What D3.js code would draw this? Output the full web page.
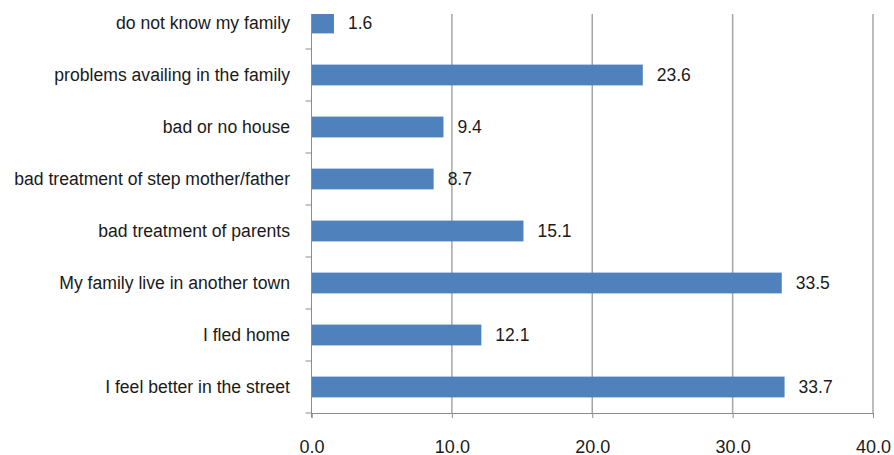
<!DOCTYPE html>
<html>
<head>
<meta charset="utf-8">
<script src="https://cdn.jsdelivr.net/npm/d3@7"></script>
<style>
  body { margin: 0; background: #fff; }
  text { font-family: "Liberation Sans", Arial, sans-serif; fill: #1a1a1a; }
</style>
</head>
<body>
<script>
// data (top to bottom)
var categories = ["do not know my family", "problems availing in the family", "bad or no house",
  "bad treatment of step mother/father", "bad treatment of parents", "My family live in another town",
  "I fled home", "I feel better in the street"];
var values = [1.6, 23.6, 9.4, 8.7, 15.1, 33.5, 12.1, 33.7];
var xTicks = [0, 10, 20, 30, 40];

var width = 894, height = 455;
var svg = d3.select("body").append("svg")
  .attr("width", width).attr("height", height);

// plot area (top is cut off in the original)
var plot = {left: 311.5, right: 873, top: -3, bottom: 413};

var x = d3.scaleLinear().domain([0, 40]).range([plot.left, plot.right]);
var band = d3.scaleBand().domain(categories).range([plot.top, plot.bottom]);
var barH = band.bandwidth() * 0.4;

// vertical gridlines
svg.selectAll(".grid").data(xTicks.slice(1)).enter().append("line")
  .attr("x1", d => x(d)).attr("x2", d => x(d))
  .attr("y1", 14).attr("y2", plot.bottom)
  .attr("stroke", "#a6a6a6").attr("stroke-width", 1.5);

// bars (first one is clipped by the top of the picture)
function barTop(i) { return Math.max(14, band(categories[i]) + (band.bandwidth() - barH) / 2); }
svg.selectAll(".bar").data(values).enter().append("rect")
  .attr("x", x(0))
  .attr("y", (d, i) => barTop(i))
  .attr("width", d => x(d) - x(0))
  .attr("height", (d, i) => band(categories[i]) + (band.bandwidth() + barH) / 2 - barTop(i))
  .attr("fill", "#4f81bd");

// value labels
svg.selectAll(".val").data(values).enter().append("text")
  .attr("x", d => x(d) + 14)
  .attr("y", (d, i) => band(categories[i]) + band.bandwidth() / 2)
  .attr("dy", "0.36em")
  .attr("font-size", 17.5)
  .text(d => d.toFixed(1));

// y axis line + ticks between categories
svg.append("line").attr("x1", plot.left).attr("x2", plot.left).attr("y1", 14).attr("y2", plot.bottom + 4)
  .attr("stroke", "#8c8c8c").attr("stroke-width", 1);
var bounds = categories.map(c => band(c)).slice(1).concat([plot.bottom]);
svg.selectAll(".ytick").data(bounds).enter().append("line")
  .attr("x1", plot.left - 6).attr("x2", plot.left)
  .attr("y1", d => d).attr("y2", d => d)
  .attr("stroke", "#8c8c8c");

// category labels
svg.selectAll(".cat").data(categories).enter().append("text")
  .attr("x", 290)
  .attr("y", d => band(d) + band.bandwidth() / 2)
  .attr("dy", "0.36em")
  .attr("text-anchor", "end")
  .attr("font-size", 17.6)
  .text(d => d);

// x axis
var xAxis = d3.axisBottom(x).tickValues(xTicks).tickSize(5).tickFormat(d3.format(".1f"));
var gx = svg.append("g").attr("transform", "translate(0," + plot.bottom + ")").call(xAxis);
gx.select(".domain").attr("stroke", "#8c8c8c");
gx.selectAll(".tick line").attr("stroke", "#8c8c8c");
gx.selectAll(".tick text")
  .attr("y", 40).attr("dy", 0)
  .attr("font-size", 18).attr("font-family", "Liberation Sans, Arial, sans-serif")
  .attr("fill", "#1a1a1a");
</script>
</body>
</html>
